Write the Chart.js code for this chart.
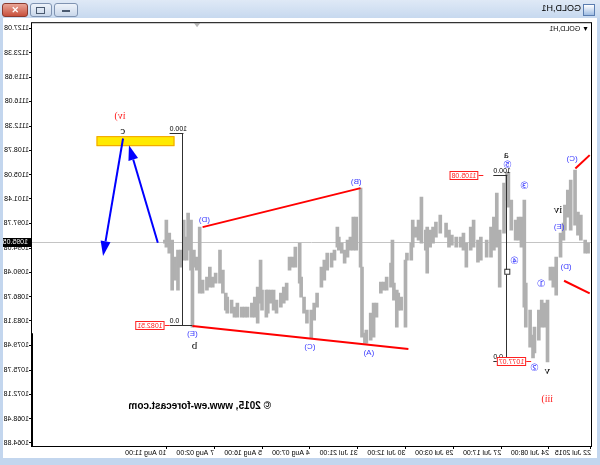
<!DOCTYPE html>
<html>
<head>
<meta charset="utf-8">
<script src="https://cdn.jsdelivr.net/npm/chart.js@4.4.0/dist/chart.umd.min.js"></script>
<style>
  html, body { margin: 0; padding: 0; background: #fff; }
  #win { position: relative; width: 600px; height: 465px; background: #c3d6ee; transform: scaleX(-1); overflow: hidden; font-family: "Liberation Sans", Arial, sans-serif; }
  #tb { position: absolute; left: 0; top: 0; width: 600px; height: 18px; background: linear-gradient(#dfe9f6, #c7d9ef); }
  #icon { position: absolute; left: 5px; top: 4px; width: 10px; height: 10px; border: 1px solid #5a7db0; background: linear-gradient(#ffffff, #9fbde3); }
  #ttl { position: absolute; left: 19px; top: 3px; font-size: 9px; color: #000; }
  .btn { position: absolute; top: 3px; height: 12px; border: 1px solid #7f93b1; border-radius: 3px; background: linear-gradient(#eef3fa, #c9d7ea); }
  #bmin { left: 522px; width: 22px; }
  #bmax { left: 548px; width: 20px; }
  #bcls { left: 572px; width: 24px; background: linear-gradient(#e9a596, #c8503c); border-color: #8b3a2e; color: #fff; font-size: 9px; font-weight: bold; text-align: center; line-height: 12px; }
  #bmin span { position: absolute; left: 7px; top: 6px; width: 8px; height: 2px; background: #4a5a70; }
  #bmax span { position: absolute; left: 6px; top: 3px; width: 7px; height: 5px; border: 1px solid #4a5a70; }
  #client { position: absolute; left: 3px; top: 18px; width: 594px; height: 440px; background: #fff; }
</style>
</head>
<body>
<div id="win">
  <div id="tb">
    <div id="icon"></div>
    <div id="ttl">GOLD,H1</div>
    <div class="btn" id="bmin"><span></span></div>
    <div class="btn" id="bmax"><span></span></div>
    <div class="btn" id="bcls">✕</div>
  </div>
  <div id="client"><canvas id="chart" width="594" height="440"></canvas></div>
</div>
<script>
// H1 bars (bar number from the first visible bar), high and low
const barIndex = [2,4,7,9,11,14,16,18,19,21,24,26,28,30,32,34,36,39,40,42,45,46,48,50,52,55,57,58,60,63,
  65,67,69,72,76,78,81,83,86,88,90,93,96,98,100,104,107,109,111,113,114,117,119,121,123,124,127,128,131,133,
  134,136,137,138,141,143,145,148,150,152,155,156,158,159,162,164,166,168,170,172,174,175,177,179,182,184,186,189,191,193,
  196,198,200,201,204,206,208,210,212,214,217,219,221,223,224,227,228,230,232,234,237,239,241,244,246,248,251,252,254,256,
  259,261,263,265,268,270,272,274,275,276,278,279,281,283,285,287,289,291,293,294];
const barHigh = [1094.83,1095.28,1099.03,1099.48,1105.78,1104.28,1102.78,1100.53,1097.83,1096.33,
  1092.73,1091.23,1091.23,1086.28,1085.83,1086.28,1084.78,1082.23,1081.03,1084.78,
  1088.83,1101.28,1098.73,1098.73,1098.28,1101.28,1105.33,1105.48,1103.83,1096.78,
  1102.33,1098.73,1097.23,1095.28,1095.73,1095.28,1098.28,1097.23,1094.83,1096.33,
  1095.73,1095.73,1096.03,1096.78,1097.83,1099.03,1097.98,1097.23,1096.78,1097.23,
  1096.78,1101.73,1098.28,1097.23,1098.28,1094.83,1093.33,1092.28,1086.73,1087.33,
  1087.78,1088.83,1095.28,1091.83,1089.73,1088.98,1088.98,1085.83,1085.83,1084.33,
  1081.78,1081.33,1091.23,1103.08,1098.73,1098.73,1095.73,1095.28,1093.78,1094.83,
  1095.73,1097.23,1093.78,1093.33,1093.33,1092.28,1091.23,1087.33,1085.83,1084.78,
  1084.78,1086.73,1089.73,1094.83,1094.23,1092.73,1092.73,1088.83,1088.23,1087.33,
  1086.28,1087.78,1087.78,1087.78,1087.78,1087.78,1092.28,1088.23,1086.73,1085.83,
  1085.23,1085.23,1085.23,1085.83,1085.23,1086.28,1086.73,1087.33,1090.78,1093.78,
  1090.33,1089.73,1091.23,1089.73,1089.28,1097.23,1092.73,1093.78,1093.33,1098.28,
  1099.33,1095.73,1098.28,1093.78,1093.78,1092.73,1095.28,1096.33,1098.28,1095.28];
const barLow = [1093.33,1093.33,1095.28,1096.03,1097.53,1096.78,1098.73,1096.78,1095.28,1092.73,
  1087.03,1088.23,1089.28,1076.98,1082.23,1082.23,1080.28,1078.33,1077.58,1079.23,
  1082.23,1085.23,1094.23,1095.28,1095.28,1096.78,1100.23,1101.28,1096.33,1088.23,
  1094.23,1093.78,1092.73,1092.73,1092.28,1091.98,1094.23,1093.78,1091.23,1093.78,
  1094.23,1094.23,1094.53,1094.23,1095.73,1096.33,1095.73,1094.83,1094.23,1090.33,
  1093.78,1094.83,1095.28,1095.73,1094.23,1092.28,1092.28,1082.23,1084.78,1084.78,
  1082.23,1086.28,1088.83,1088.23,1087.78,1087.78,1087.33,1083.73,1080.73,1080.28,
  1079.83,1079.83,1080.73,1091.23,1093.78,1093.78,1093.78,1092.73,1091.83,1093.33,
  1093.78,1094.23,1092.28,1091.23,1090.78,1089.28,1088.23,1085.23,1083.28,1080.58,
  1082.83,1084.33,1086.73,1088.83,1091.23,1091.23,1090.78,1086.28,1085.83,1085.23,
  1084.33,1084.78,1085.83,1084.33,1083.73,1084.78,1085.83,1082.83,1083.73,1083.73,
  1083.73,1083.73,1083.73,1083.73,1083.73,1084.33,1084.33,1084.78,1087.33,1088.83,
  1088.83,1088.23,1088.23,1087.78,1087.33,1087.33,1090.78,1091.23,1082.23,1090.78,
  1093.78,1092.28,1092.28,1091.23,1087.78,1089.28,1087.78,1093.33,1094.23,1094.83];

const lastPrice = 1095.05;
const priceTicks = [1127.08,1123.38,1119.68,1116.08,1112.38,1108.78,1105.08,1101.48,1097.78,
  1094.08,1090.48,1086.78,1083.18,1079.48,1075.78,1072.18,1068.48,1064.88];
const tickBars = [0, 29, 62, 95, 128, 161, 194, 227, 260, 293];
const tickLabels = ['22 Jul 2015','24 Jul 08:00','27 Jul 17:00','29 Jul 03:00','30 Jul 12:00',
  '31 Jul 21:00','4 Aug 07:00','5 Aug 16:00','7 Aug 02:00','10 Aug 11:00'];

// wave markup: [bar, price, bar, price]
const redLines = [[159,1103.08,268,1097.23],[126,1078.93,275,1082.38],[0.9,1108.03,10.8,1106.03],[0.9,1087.28,18.6,1089.18]];
const blueArrows = [[298.9,1094.88,318.8,1109.53],[322.9,1110.53,336.7,1092.88]];
const targetBox = [287.4, 341.2, 1109.38, 1110.88];
const fibStems = [[281.2,1082.51,1111.33],[57.75,1077.07,1105.08]];
const fibLevels = [['0.0',275,290.8,1082.51],['100.0',281.2,290.8,1111.33],['100.0',57.75,67.4,1105.08],['0.0',57.75,67.4,1077.07]];
const fibHandle = [57.75, 1090.53];
const priceTags = [['1082.51',290.8,1082.51],['1105.08',74.3,1105.08],['1077.07',41.3,1077.07]];
const redWaves = [['iv)',325,1113.88],['iii)',30.25,1071.43]];
const blackWaves = [['c',323,1111.63],['b',273.6,1079.38],['a',58.4,1108.1],['v',30.25,1075.55],['iv',22.7,1099.78]];
const blueWaves = [['(E)',275,1081.18],['(D)',266.75,1098.35],['(C)',193.9,1079.3],['(A)',153.3,1078.4],['(B)',162,1103.98],
  ['(E)',22,1097.3],['(D)',17.2,1091.3],['(C)',13,1107.5]];
const circledWaves = [['⑤',57.75,1106.53],['③',46,1103.38],['④',53,1092.13],['①',34.4,1088.68],['②',39.2,1076.08]];
const watermark = ['© 2015, www.ew-forecast.com', 270, 1070.38];

function drawArrow(ctx, x1, y1, x2, y2) {
  const ang = Math.atan2(y2 - y1, x2 - x1), len = 15, w = 5;
  const bx = x2 - len * Math.cos(ang), by = y2 - len * Math.sin(ang);
  ctx.beginPath(); ctx.moveTo(x1, y1); ctx.lineTo(bx, by); ctx.stroke();
  ctx.beginPath(); ctx.moveTo(x2, y2);
  ctx.lineTo(bx + w * Math.sin(ang), by - w * Math.cos(ang));
  ctx.lineTo(bx - w * Math.sin(ang), by + w * Math.cos(ang));
  ctx.closePath(); ctx.fill();
}

const wavePlugin = {
  id: 'waves',
  beforeDatasetsDraw(chart) {
    const { ctx, chartArea: a, scales: { y } } = chart;
    const yp = Math.round(y.getPixelForValue(lastPrice)) + 0.5;
    ctx.save();
    ctx.strokeStyle = '#c4c4c4';
    ctx.lineWidth = 1;
    ctx.beginPath(); ctx.moveTo(a.left, yp); ctx.lineTo(a.right, yp); ctx.stroke();
    ctx.restore();
  },
  afterDatasetsDraw(chart) {
    const { ctx, chartArea: a, scales: { x, y } } = chart;
    const px = v => x.getPixelForValue(v), py = v => y.getPixelForValue(v);
    ctx.save();
    ctx.beginPath(); ctx.rect(a.left, a.top, a.right - a.left, a.bottom - a.top); ctx.clip();

    // target zone
    const bx0 = px(targetBox[0]), bx1 = px(targetBox[1]), by0 = py(targetBox[3]), by1 = py(targetBox[2]);
    ctx.fillStyle = '#ffea00';
    ctx.fillRect(bx0, by0, bx1 - bx0, by1 - by0);
    ctx.strokeStyle = '#f2a100'; ctx.lineWidth = 1;
    ctx.strokeRect(bx0 + 0.5, by0 + 0.5, bx1 - bx0 - 1, by1 - by0 - 1);

    // fibo stems and levels
    ctx.strokeStyle = '#303030'; ctx.lineWidth = 1;
    fibStems.forEach(([b, p0, p1]) => {
      const xx = Math.round(px(b)) + 0.5;
      ctx.beginPath(); ctx.moveTo(xx, py(p0)); ctx.lineTo(xx, py(p1)); ctx.stroke();
    });
    ctx.font = '7px "Liberation Sans"'; ctx.fillStyle = '#000';
    ctx.textAlign = 'right'; ctx.textBaseline = 'bottom';
    fibLevels.forEach(([t, b0, b1, p]) => {
      const yy = Math.round(py(p)) + 0.5;
      ctx.beginPath(); ctx.moveTo(px(b0), yy); ctx.lineTo(px(b1), yy); ctx.stroke();
      ctx.fillText(t, px(b1), yy - 0.5);
    });
    ctx.fillStyle = '#fff';
    const hx = px(fibHandle[0]), hy = py(fibHandle[1]);
    ctx.fillRect(hx - 2, hy - 2, 5, 5);
    ctx.strokeRect(hx - 2.5, hy - 2.5, 5, 5);

    // price tags
    ctx.textAlign = 'left'; ctx.textBaseline = 'middle';
    priceTags.forEach(([t, b, p]) => {
      const x0 = px(b), yy = Math.round(py(p)) + 0.5;
      const w = ctx.measureText(t).width + 4;
      ctx.strokeStyle = '#ff2020';
      ctx.beginPath(); ctx.moveTo(x0, yy); ctx.lineTo(x0 + 5, yy); ctx.stroke();
      ctx.fillStyle = '#fff';
      ctx.fillRect(x0 + 5, yy - 4.5, w, 9);
      ctx.strokeRect(x0 + 5.5, yy - 4, w - 1, 8);
      ctx.fillStyle = '#ff2020';
      ctx.fillText(t, x0 + 7, yy + 0.5);
    });

    // trend lines
    ctx.strokeStyle = '#ff0000'; ctx.lineWidth = 2;
    redLines.forEach(([b0, p0, b1, p1]) => {
      ctx.beginPath(); ctx.moveTo(px(b0), py(p0)); ctx.lineTo(px(b1), py(p1)); ctx.stroke();
    });

    // projection arrows
    ctx.strokeStyle = '#0000ff'; ctx.fillStyle = '#0000ff'; ctx.lineWidth = 2;
    blueArrows.forEach(([b0, p0, b1, p1]) => drawArrow(ctx, px(b0), py(p0), px(b1), py(p1)));

    // wave labels
    ctx.textAlign = 'center'; ctx.textBaseline = 'middle';
    ctx.font = '10px "Liberation Serif"'; ctx.fillStyle = '#ff1a1a';
    redWaves.forEach(([t, b, p]) => ctx.fillText(t, px(b), py(p)));
    ctx.font = '11px "Liberation Serif"'; ctx.fillStyle = '#000';
    blackWaves.forEach(([t, b, p]) => ctx.fillText(t, px(b), py(p)));
    ctx.font = '8px "Liberation Sans"'; ctx.fillStyle = '#3b3bff';
    blueWaves.forEach(([t, b, p]) => ctx.fillText(t, px(b), py(p)));
    ctx.font = '10px "DejaVu Sans"';
    circledWaves.forEach(([t, b, p]) => ctx.fillText(t, px(b), py(p)));

    // copyright text
    ctx.font = 'bold 10px "Liberation Sans"'; ctx.fillStyle = '#000';
    ctx.fillText(watermark[0], px(watermark[1]), py(watermark[2]));

    // symbol caption and shift marker
    ctx.textAlign = 'left';
    ctx.font = '7px "Liberation Sans"';
    ctx.fillText('▼ GOLD,H1', a.left + 3, a.top + 7);
    ctx.fillStyle = '#b8b8b8';
    const mx = a.left + (a.right - a.left) * 0.704;
    ctx.beginPath(); ctx.moveTo(mx - 3, a.top + 1); ctx.lineTo(mx + 3, a.top + 1); ctx.lineTo(mx, a.top + 5); ctx.closePath(); ctx.fill();
    ctx.restore();
  },
  afterDraw(chart) {
    const { ctx, chartArea: a, scales: { y } } = chart;
    ctx.save();
    ctx.strokeStyle = '#000'; ctx.lineWidth = 1;
    ctx.strokeRect(a.left + 0.5, a.top + 0.5, a.right - a.left - 1, a.bottom - a.top - 1);
    // heavier frame segment on the price side, as on the terminal
    ctx.fillStyle = '#000';
    ctx.fillRect(a.right - 2, y.getPixelForValue(1081.3), 2, a.bottom - y.getPixelForValue(1081.3));
    // current price on the axis
    const yy = Math.round(y.getPixelForValue(lastPrice));
    ctx.fillRect(a.right, yy - 4, chart.width - a.right, 9);
    ctx.fillStyle = '#fff';
    ctx.font = '7px "Liberation Sans"';
    ctx.textAlign = 'left'; ctx.textBaseline = 'middle';
    ctx.fillText(lastPrice.toFixed(2), a.right + 3, yy + 0.5);
    ctx.restore();
  }
};

const ctx = document.getElementById('chart').getContext('2d');
new Chart(ctx, {
  type: 'bar',
  data: {
    datasets: [{
      data: barIndex.map((b, i) => ({ x: b, y: [barLow[i], barHigh[i]] })),
      backgroundColor: '#b0b0b0',
      borderWidth: 0,
      barThickness: 3,
      grouped: false
    }]
  },
  options: {
    responsive: false,
    animation: false,
    layout: { autoPadding: false, padding: { left: 5, top: 4, right: 0, bottom: 0 } },
    plugins: { legend: { display: false }, tooltip: { enabled: false } },
    scales: {
      x: {
        type: 'linear', min: -0.7, max: 386.4, offset: false,
        grid: { drawOnChartArea: false, drawTicks: true, tickLength: 2, color: '#000', offset: false },
        border: { display: false },
        ticks: {
          autoSkip: false, maxRotation: 0, minRotation: 0, align: 'start', padding: 0,
          color: '#000', font: { family: 'Liberation Sans', size: 7 },
          callback: (v, i) => tickLabels[i]
        },
        afterBuildTicks: s => { s.ticks = tickBars.map(v => ({ value: v })); },
        afterFit: s => { s.height = 11; }
      },
      y: {
        position: 'right', min: 1064.23, max: 1127.98, beginAtZero: false,
        grid: { drawOnChartArea: false, drawTicks: true, tickLength: 2, color: '#000' },
        border: { display: false },
        ticks: {
          crossAlign: 'near', padding: 0, color: '#000',
          font: { family: 'Liberation Sans', size: 7 },
          callback: v => v.toFixed(2)
        },
        afterBuildTicks: s => { s.ticks = priceTicks.map(v => ({ value: v })); },
        afterFit: s => { s.width = 28; }
      }
    }
  },
  plugins: [wavePlugin]
});
</script>
</body>
</html>
